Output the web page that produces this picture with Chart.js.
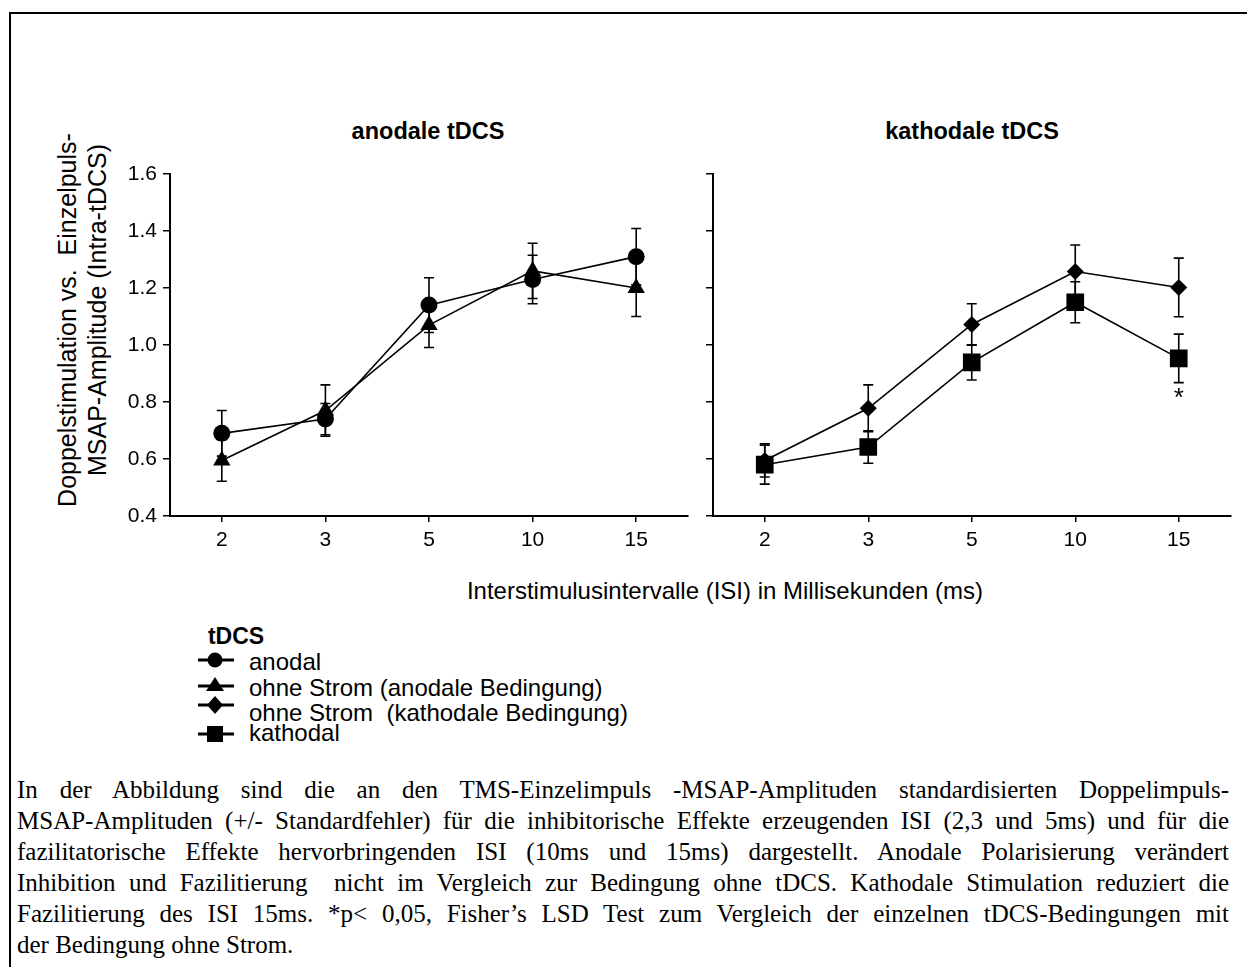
<!DOCTYPE html>
<html>
<head>
<meta charset="utf-8">
<script src="https://cdn.jsdelivr.net/npm/chart.js@4.4.1/dist/chart.umd.min.js"></script>
<style>
  body { margin: 0; background: #fff; }
  #page { position: relative; width: 1247px; height: 967px; overflow: hidden; background: #fff;
          font-family: "Liberation Sans", Arial, sans-serif; color: #000; }
  #frame { position: absolute; left: 9px; top: 12px; width: 1300px; height: 1000px;
           border-left: 2px solid #000; border-top: 2px solid #000; }
  canvas { position: absolute; }
  .lbl { position: absolute; white-space: nowrap; transform: translate(-50%, -50%); }
  .ptitle { font-weight: bold; font-size: 23.5px; }
  .ytitle { position: absolute; white-space: pre; font-size: 25px; transform: translate(-50%, -50%) rotate(-90deg); }
  .leg { position: absolute; white-space: pre; font-size: 24px; transform: translateY(-50%); }
  .sym { position: absolute; transform: translateY(-50%); }
  #caption { position: absolute; left: 17px; top: 774px; width: 1212px;
             font-family: "Liberation Serif", "Times New Roman", serif; font-size: 25px; line-height: 31px; }
  #caption div { text-align: justify; text-align-last: justify; white-space: nowrap; }
  #caption div.last { text-align-last: left; }
</style>
</head>
<body>
<div id="page">
  <div id="frame"></div>
  <div class="lbl ptitle" style="left:428px; top:131px">anodale tDCS</div>
  <div class="lbl ptitle" style="left:972px; top:131px">kathodale tDCS</div>
  <div class="ytitle" style="left:67px; top:320px">Doppelstimulation vs.  Einzelpuls-</div>
  <div class="ytitle" style="left:97px; top:310px">MSAP-Amplitude (Intra-tDCS)</div>
  <canvas id="left" width="600" height="470" style="left:100px; top:100px"></canvas>
  <canvas id="right" width="600" height="470" style="left:643px; top:100px"></canvas>
  <div class="lbl" style="left:725px; top:591px; font-size:24px">Interstimulusintervalle (ISI) in Millisekunden (ms)</div>
  <div class="lbl" style="left:236px; top:636px; font-size:23px; font-weight:bold">tDCS</div>
  <div id="legend"></div>
  <div id="caption">
    <div>In der Abbildung sind die an den TMS-Einzelimpuls -MSAP-Amplituden standardisierten Doppelimpuls-</div>
    <div>MSAP-Amplituden (+/- Standardfehler) für die inhibitorische Effekte erzeugenden ISI (2,3 und 5ms) und für die</div>
    <div>fazilitatorische Effekte hervorbringenden ISI (10ms und 15ms) dargestellt. Anodale Polarisierung verändert</div>
    <div>Inhibition und Fazilitierung &nbsp;nicht im Vergleich zur Bedingung ohne tDCS. Kathodale Stimulation reduziert die</div>
    <div>Fazilitierung des ISI 15ms. *p&lt; 0,05, Fisher’s LSD Test zum Vergleich der einzelnen tDCS-Bedingungen mit</div>
    <div class="last">der Bedingung ohne Strom.</div>
  </div>
</div>
<script>
// ISI categories and y tick labels
const isi = ['2', '3', '5', '10', '15'];
const yTicks = ['0.4', '0.6', '0.8', '1.0', '1.2', '1.4', '1.6'];

// anodale tDCS panel
const anodal = [0.69, 0.74, 1.14, 1.23, 1.31];
const anodalSE = [0.08, 0.055, 0.096, 0.085, 0.099];
const shamAnodal = [0.595, 0.77, 1.07, 1.26, 1.20];
const shamAnodalSE = [0.073, 0.09, 0.079, 0.097, 0.10];

// kathodale tDCS panel
const shamKathodal = [0.595, 0.778, 1.072, 1.258, 1.202];
const shamKathodalSE = [0.058, 0.082, 0.073, 0.093, 0.103];
const kathodal = [0.58, 0.642, 0.939, 1.15, 0.953];
const kathodalSE = [0.068, 0.057, 0.062, 0.072, 0.085];
const kathodalSig = ['', '', '', '', '*'];

const legendNames = ['anodal', 'ohne Strom (anodale Bedingung)', 'ohne Strom  (kathodale Bedingung)', 'kathodal'];

const FONT = '"Liberation Sans", Arial, sans-serif';

const errorBars = {
  id: 'errorBars',
  beforeDatasetsDraw(chart) {
    const ctx = chart.ctx;
    const ys = chart.scales.y;
    chart.data.datasets.forEach((ds, i) => {
      const meta = chart.getDatasetMeta(i);
      ctx.save();
      ctx.strokeStyle = '#000';
      ctx.lineWidth = 1.6;
      meta.data.forEach((pt, j) => {
        const top = ys.getPixelForValue(ds.data[j] + ds.errors[j]);
        const bot = ys.getPixelForValue(ds.data[j] - ds.errors[j]);
        ctx.beginPath();
        ctx.moveTo(pt.x, top); ctx.lineTo(pt.x, bot);
        ctx.moveTo(pt.x - 5, top); ctx.lineTo(pt.x + 5, top);
        ctx.moveTo(pt.x - 5, bot); ctx.lineTo(pt.x + 5, bot);
        ctx.stroke();
      });
      ctx.restore();
    });
  },
  afterDatasetsDraw(chart) {
    // significance marks below the lower error bar
    const ctx = chart.ctx;
    const ys = chart.scales.y;
    chart.data.datasets.forEach((ds, i) => {
      if (!ds.sig) return;
      const meta = chart.getDatasetMeta(i);
      ctx.save();
      ctx.fillStyle = '#000';
      ctx.font = '26px ' + FONT;
      ctx.textAlign = 'center';
      ctx.textBaseline = 'middle';
      meta.data.forEach((pt, j) => {
        if (!ds.sig[j]) return;
        ctx.fillText(ds.sig[j], pt.x, ys.getPixelForValue(ds.data[j] - ds.errors[j]) + 16);
      });
      ctx.restore();
    });
  }
};

function series(data, errors, style, radius, sig) {
  return {
    data: data, errors: errors, sig: sig,
    borderColor: '#000', backgroundColor: '#000', borderWidth: 1.6,
    pointStyle: style, pointRadius: radius, pointBorderWidth: 0,
    pointBackgroundColor: '#000', tension: 0
  };
}

function makePanel(id, datasets, showLabels) {
  return new Chart(document.getElementById(id), {
    type: 'line',
    data: { labels: isi, datasets: datasets },
    plugins: [errorBars],
    options: {
      responsive: false,
      animation: false,
      layout: { padding: { top: 74, right: 12, left: 0, bottom: 0 } },
      plugins: { legend: { display: false }, tooltip: { enabled: false } },
      scales: {
        x: {
          type: 'category',
          offset: true,
          afterFit: s => { s.height = 54; },
          grid: { display: true, drawOnChartArea: false, offset: false, tickLength: 6, color: '#000', lineWidth: 1.5 },
          border: { display: true, color: '#000', width: 2 },
          ticks: { color: '#000', font: { size: 21, family: FONT }, padding: 6, maxRotation: 0 }
        },
        y: {
          min: 0.4, max: 1.6,
          afterFit: s => { s.width = 70; },
          grid: { display: true, drawOnChartArea: false, tickLength: 7, color: '#000', lineWidth: 1.5 },
          border: { display: true, color: '#000', width: 2 },
          ticks: {
            stepSize: 0.2, color: '#000', padding: 6,
            font: { size: 21, family: FONT },
            callback: (v, i) => showLabels ? yTicks[i] : ''
          }
        }
      }
    }
  });
}

makePanel('left', [
  series(anodal, anodalSE, 'circle', 8.5),
  series(shamAnodal, shamAnodalSE, 'triangle', 10)
], true);

makePanel('right', [
  series(shamKathodal, shamKathodalSE, 'rectRot', 8.5),
  series(kathodal, kathodalSE, 'rect', 12.5, kathodalSig)
], false);

// legend: symbol rows and text rows
const legendSymY = [660, 686, 705, 734];
const legendTextY = [662, 688, 713, 733];
const legendShapes = [
  '<circle cx="18" cy="12" r="7.5" fill="#000"/>',
  '<polygon points="18,3 27,17 9,17" fill="#000"/>',
  '<polygon points="18,3 26,12 18,21 10,12" fill="#000"/>',
  '<rect x="10" y="4" width="16" height="16" fill="#000"/>'
];
const legend = document.getElementById('legend');
legendNames.forEach((name, i) => {
  const sym = document.createElement('div');
  sym.className = 'sym';
  sym.style.left = '197px';
  sym.style.top = legendSymY[i] + 'px';
  sym.innerHTML = '<svg width="38" height="24" style="display:block"><line x1="1" y1="12" x2="37" y2="12" stroke="#000" stroke-width="3"/>' +
    legendShapes[i] + '</svg>';
  legend.appendChild(sym);
  const txt = document.createElement('div');
  txt.className = 'leg';
  txt.style.left = '249px';
  txt.style.top = legendTextY[i] + 'px';
  txt.textContent = name;
  legend.appendChild(txt);
});
</script>
</body>
</html>
